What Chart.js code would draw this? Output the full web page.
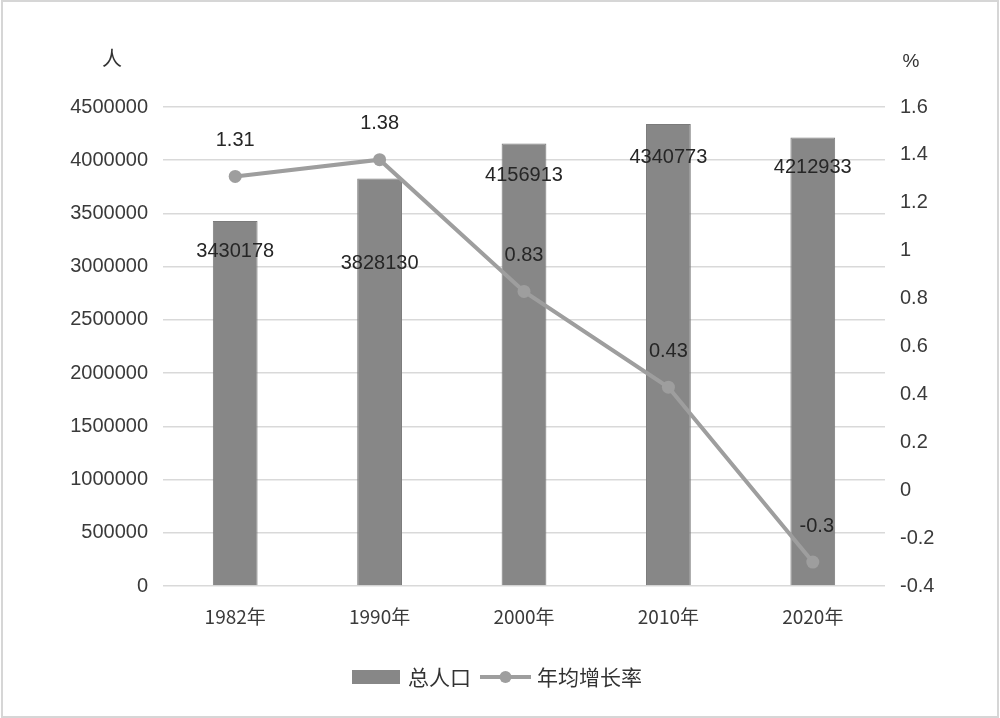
<!DOCTYPE html>
<html><head><meta charset="utf-8">
<script src="https://cdn.jsdelivr.net/npm/chart.js@4"></script>
<style>html,body{margin:0;padding:0;background:#fff;}#wrap{width:1000px;height:718px;}</style>
</head><body><div id="wrap"><canvas id="c" width="1000" height="718"></canvas></div>
<script>
const categories = ["1982年","1990年","2000年","2010年","2020年"];
const population = [3430178, 3828130, 4156913, 4340773, 4212933];
const growthRate = [1.31, 1.38, 0.83, 0.43, -0.3];
const popLabelOffsets = [31, 85, 32, 34, 30];

const FONT = "'Liberation Sans', 'Noto Sans CJK SC', sans-serif";
const CJK = "'Noto Sans CJK SC', 'Liberation Sans', sans-serif";
const TXT = '#3a3a3a';

const decor = {
  id: 'decor',
  beforeDraw(chart) {
    const ctx = chart.ctx;
    ctx.save();
    ctx.fillStyle = '#fff';
    ctx.fillRect(0, 0, chart.width, chart.height);
    ctx.strokeStyle = '#d6d6d6';
    ctx.lineWidth = 2;
    ctx.strokeRect(2, 1, chart.width - 4, chart.height - 2);
    ctx.restore();
  },
  afterDatasetsDraw(chart) {
    const ctx = chart.ctx;
    ctx.save();
    ctx.fillStyle = '#262626';
    ctx.textAlign = 'center';
    ctx.textBaseline = 'middle';
    ctx.font = '20px ' + FONT;
    const barMeta = chart.getDatasetMeta(1);
    barMeta.data.forEach((el, i) => {
      ctx.fillText(String(population[i]), el.x, el.y + popLabelOffsets[i]);
    });
    const lineMeta = chart.getDatasetMeta(0);
    lineMeta.data.forEach((el, i) => {
      ctx.fillText(String(growthRate[i]), el.x + (i === 4 ? 4 : 0), el.y - 36);
    });
    ctx.font = '20px ' + CJK;
    ctx.fillStyle = '#333';
    ctx.fillText('人', 112, 58);
    ctx.font = '19px ' + FONT;
    ctx.fillText('%', 911, 62);
    const ly = 677;
    ctx.fillStyle = '#878787';
    ctx.fillRect(352, ly - 7, 48, 14);
    ctx.fillStyle = '#333';
    ctx.font = '21px ' + CJK;
    ctx.textAlign = 'left';
    ctx.fillText('总人口', 408, ly);
    ctx.strokeStyle = '#9e9e9e';
    ctx.lineWidth = 4;
    ctx.beginPath(); ctx.moveTo(480, ly); ctx.lineTo(531, ly); ctx.stroke();
    ctx.fillStyle = '#9e9e9e';
    ctx.beginPath(); ctx.arc(505.5, ly, 6, 0, Math.PI * 2); ctx.fill();
    ctx.fillStyle = '#333';
    ctx.fillText('年均增长率', 537, ly);
    ctx.restore();
  }
};

new Chart(document.getElementById('c'), {
  data: {
    labels: categories,
    datasets: [
      {
        type: 'line', label: '年均增长率', data: growthRate, yAxisID: 'y1', order: 0,
        borderColor: '#9e9e9e', backgroundColor: '#9e9e9e', borderWidth: 4,
        pointRadius: 6.5, pointHoverRadius: 6.5, pointBackgroundColor: '#9e9e9e', pointBorderWidth: 0,
        tension: 0
      },
      {
        type: 'bar', label: '总人口', data: population, yAxisID: 'y', order: 1,
        backgroundColor: '#878787', borderColor: '#7b7b7b', borderWidth: 1,
        categoryPercentage: 1, barPercentage: 0.31
      }
    ]
  },
  options: {
    responsive: false, animation: false,
    layout: { padding: { top: 107, left: 0, right: 0, bottom: 0 } },
    plugins: { legend: { display: false }, tooltip: { enabled: false } },
    scales: {
      x: {
        grid: { display: false, drawTicks: false },
        border: { display: false },
        ticks: { color: TXT, font: { family: CJK, size: 19 }, padding: 19 },
        afterFit(s) { s.height = 132; }
      },
      y: {
        position: 'left', min: 0, max: 4500000,
        ticks: { stepSize: 500000, color: TXT, font: { family: FONT, size: 20 }, padding: 15,
          callback: v => String(v) },
        grid: { color: '#d9d9d9', lineWidth: 1.5, drawTicks: false },
        border: { display: false },
        afterFit(s) { s.width = 163; }
      },
      y1: {
        position: 'right', min: -0.4, max: 1.6,
        ticks: { stepSize: 0.2, color: TXT, font: { family: FONT, size: 20 }, padding: 15,
          callback: v => String(Math.round(v * 10) / 10) },
        grid: { display: false, drawTicks: false },
        border: { display: false },
        afterFit(s) { s.width = 115; }
      }
    }
  },
  plugins: [decor]
});
</script>
</body></html>
